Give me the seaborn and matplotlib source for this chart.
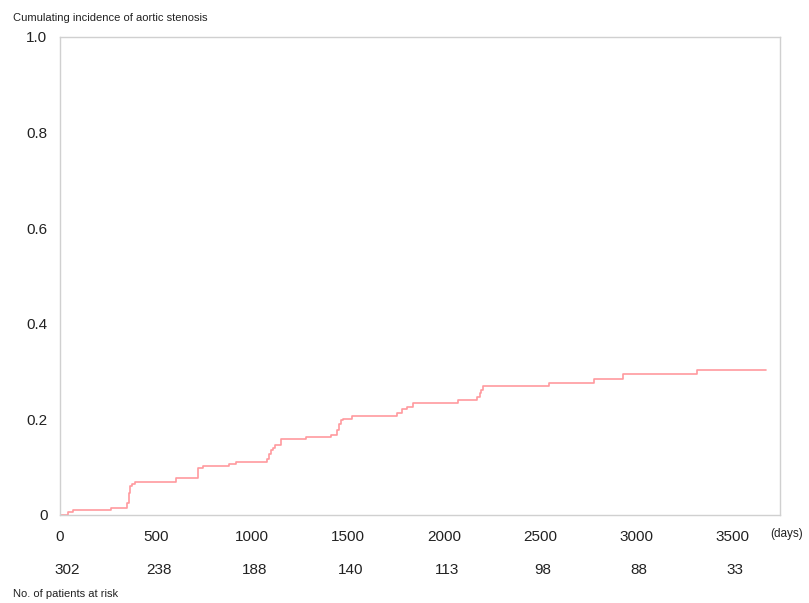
import matplotlib
matplotlib.use('Agg')
from matplotlib import pyplot as plt
from matplotlib.ticker import MultipleLocator
import pandas as pd
import seaborn as sns

# event times (days) and cumulative incidence
days = [0, 43, 70, 266, 350, 358, 365, 373, 390, 603, 720, 743, 880, 915,
        1076, 1090, 1097, 1110, 1120, 1149, 1280, 1410, 1443, 1455, 1465,
        1472, 1519, 1757, 1779, 1805, 1840, 2071, 2174, 2185, 2195, 2205,
        2547, 2783, 2930, 3316, 3677]
incidence = [0.0, 0.007, 0.0105, 0.014, 0.025, 0.045, 0.060, 0.065, 0.070,
             0.078, 0.098, 0.1025, 0.1067, 0.1116, 0.118, 0.127, 0.135,
             0.140, 0.146, 0.158, 0.1625, 0.167, 0.178, 0.190, 0.199, 0.2015,
             0.207, 0.214, 0.221, 0.2266, 0.2337, 0.2406, 0.2476, 0.255,
             0.2615, 0.270, 0.277, 0.2845, 0.294, 0.303, 0.303]

x_ticks = [0, 500, 1000, 1500, 2000, 2500, 3000, 3500]
y_ticks = [0, 0.2, 0.4, 0.6, 0.8, 1.0]
y_labels = ['0', '0.2', '0.4', '0.6', '0.8', '1.0']
at_risk = [302, 238, 188, 140, 113, 98, 88, 33]

df = pd.DataFrame({'days': days, 'incidence': incidence})

sns.set_style('white')
plt.rcParams['font.family'] = ['Liberation Sans', 'DejaVu Sans']

fig = plt.figure(figsize=(8.09, 6.03), dpi=100)
ax = fig.add_axes([60/809, 1-515/603, 720/809, 478/603])
sns.lineplot(data=df, x='days', y='incidence', drawstyle='steps-post',
             color='#ff9a9e', linewidth=1.2, ax=ax)

ax.set_xlim(0, 3750)
ax.set_ylim(0, 1)
ax.set_xlabel('')
ax.set_ylabel('')
ax.set_xticks(x_ticks)
ax.set_xticklabels([str(t) for t in x_ticks])
ax.set_yticks(y_ticks)
ax.set_yticklabels(y_labels)
ax.xaxis.set_minor_locator(MultipleLocator(250))
ax.yaxis.set_minor_locator(MultipleLocator(0.1))
ax.tick_params(axis='both', which='both', direction='out', color='#c8c8c8',
               labelsize=11, labelcolor='#222222')
ax.tick_params(axis='x', which='major', length=4, pad=7)
ax.tick_params(axis='x', which='minor', length=3)
ax.tick_params(axis='y', which='major', length=4, pad=5)
ax.tick_params(axis='y', which='minor', length=3)
for sp in ax.spines.values():
    sp.set_color('#d0d0d0')
    sp.set_linewidth(1.0)

for d, n in zip(x_ticks, at_risk):
    ax.annotate(str(n), xy=(d, 0), xycoords=('data', 'axes fraction'),
                xytext=(5 if d == 0 else 2, -39.5), textcoords='offset points',
                ha='center', va='center', fontsize=11, color='#222222')

fig.text(13/809, 1-18/603, 'Cumulating incidence of aortic stenosis',
         fontsize=8, color='#222222', va='center', ha='left')
fig.text(13/809, 1-594/603, 'No. of patients at risk',
         fontsize=8, color='#222222', va='center', ha='left')
fig.text(770/809, 1-534/603, '(days)',
         fontsize=8.5, color='#222222', va='center', ha='left')

fig.savefig('out.png', dpi=100)
